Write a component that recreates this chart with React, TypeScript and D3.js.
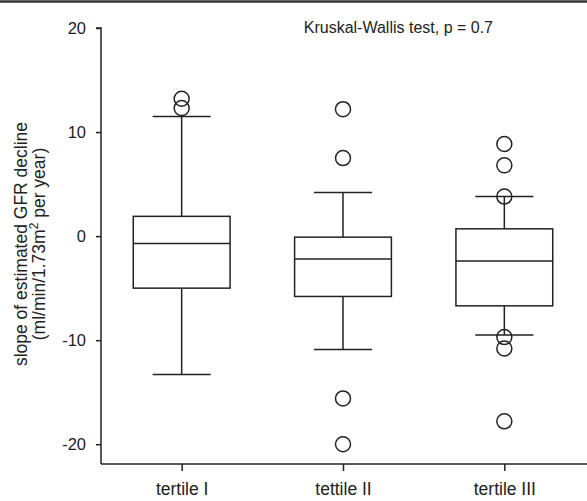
import { useEffect, useRef } from "react";
import * as d3 from "d3";

// dados
const categories = ["tertile I", "tettile II", "tertile III"];
const q1 = [-5.0, -5.8, -6.7];
const median = [-0.7, -2.2, -2.4];
const q3 = [1.9, -0.1, 0.7];
const whiskerLow = [-13.3, -10.9, -9.5];
const whiskerHigh = [11.5, 4.2, 3.8];
const outliers = [
  [13.2, 12.3],
  [12.2, 7.5, -15.6, -20.0],
  [8.85, 6.8, 3.8, -9.7, -10.8, -17.8],
];
const yTicks = [20, 10, 0, -10, -20];

const W = 587;
const H = 501;
const FONT = "'Liberation Sans', Arial, sans-serif";
const INK = "#222";

const App = () => {
  const svgRef = useRef<SVGSVGElement>(null);

  useEffect(() => {
    const svg = d3.select(svgRef.current).attr("width", W).attr("height", H);
    svg.selectAll("*").remove();

    const left = 101;
    const bottom = 464;

    const x = d3.scalePoint<string>().domain(categories).range([left, 585]).padding(0.5);
    const y = d3.scaleLinear().domain([-21.9, 20]).range([bottom, 28]);

    const step = x.step();
    const boxW = step * 0.6;
    const capW = step * 0.36;

    // linha no topo
    svg.append("line")
      .attr("x1", 0).attr("x2", W)
      .attr("y1", 1.5).attr("y2", 1.5)
      .attr("stroke", "#333").attr("stroke-width", 2.5);

    // eixo y (hífen simples como no original)
    const yAxis = d3.axisLeft(y).tickValues(yTicks).tickSize(5).tickPadding(10).tickFormat(d => String(d));
    const gy = svg.append("g").attr("transform", `translate(${left},0)`).call(yAxis);
    gy.select(".domain").attr("d", `M-5,${y(20)}H0V${bottom}`);

    // eixo x
    const xAxis = d3.axisBottom(x).tickSize(7).tickPadding(12);
    const gx = svg.append("g").attr("transform", `translate(0,${bottom})`).call(xAxis);
    gx.select(".domain").attr("d", `M${left},0H${W}`);

    [gx, gy].forEach(g => {
      g.selectAll("path, line").attr("stroke", INK).attr("stroke-width", 1.5);
      g.selectAll("text").attr("font-family", FONT).attr("font-size", 16.5).attr("fill", INK);
    });
    gx.selectAll("text").attr("font-size", 17.5);

    const boxes = svg.append("g")
      .attr("fill", "none")
      .attr("stroke", INK)
      .attr("stroke-width", 1.5);

    categories.forEach((c, i) => {
      const cx = x(c) as number;
      const g = boxes.append("g");

      // bigodes
      g.append("line").attr("x1", cx).attr("x2", cx).attr("y1", y(whiskerHigh[i])).attr("y2", y(q3[i]));
      g.append("line").attr("x1", cx).attr("x2", cx).attr("y1", y(q1[i])).attr("y2", y(whiskerLow[i]));
      g.append("line").attr("x1", cx - capW / 2).attr("x2", cx + capW / 2).attr("y1", y(whiskerHigh[i])).attr("y2", y(whiskerHigh[i]));
      g.append("line").attr("x1", cx - capW / 2).attr("x2", cx + capW / 2).attr("y1", y(whiskerLow[i])).attr("y2", y(whiskerLow[i]));

      // caixa
      g.append("rect")
        .attr("x", cx - boxW / 2)
        .attr("y", y(q3[i]))
        .attr("width", boxW)
        .attr("height", y(q1[i]) - y(q3[i]));
      g.append("line").attr("x1", cx - boxW / 2).attr("x2", cx + boxW / 2).attr("y1", y(median[i])).attr("y2", y(median[i]));

      // outliers
      g.selectAll("circle")
        .data(outliers[i])
        .join("circle")
        .attr("cx", cx)
        .attr("cy", v => y(v))
        .attr("r", 7.5);
    });

    // título
    svg.append("text")
      .attr("x", 493).attr("y", 33)
      .attr("text-anchor", "end")
      .attr("font-family", FONT).attr("font-size", 16).attr("fill", INK)
      .text("Kruskal-Wallis test, p = 0.7");

    // rótulo do eixo y
    const yl = svg.append("text")
      .attr("transform", "translate(0,244) rotate(-90)")
      .attr("text-anchor", "middle")
      .attr("font-family", FONT).attr("font-size", 17.5).attr("fill", INK);
    yl.append("tspan").attr("x", 0).attr("y", 27).text("slope of estimated GFR decline");
    const l2 = yl.append("tspan").attr("x", 0).attr("y", 45);
    l2.append("tspan").text("(ml/min/1.73m");
    l2.append("tspan").attr("dy", -7).attr("font-size", 12).text("2");
    l2.append("tspan").attr("dy", 7).text(" per year)");
  }, []);

  return <svg ref={svgRef} style={{ position: "absolute", left: 0, top: 0 }} />;
};

export default App;
